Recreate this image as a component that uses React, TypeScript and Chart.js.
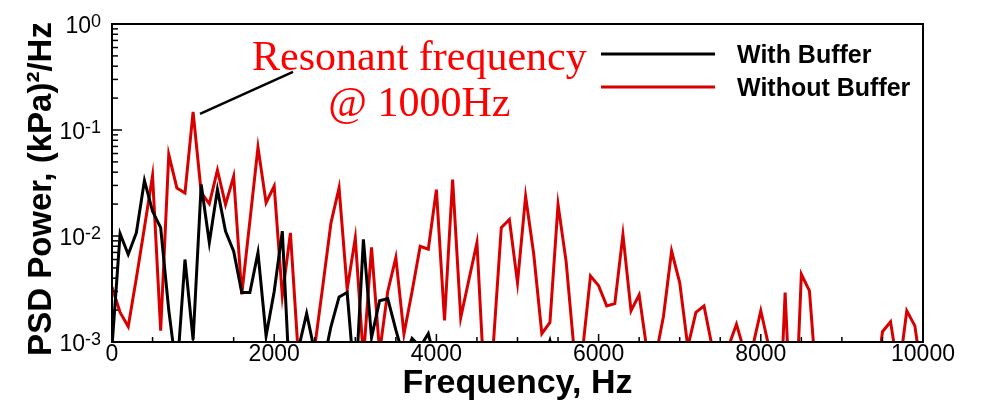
import { useEffect, useRef } from 'react';
import { Chart, registerables } from 'chart.js';

Chart.register(...registerables);

// Frequency bins (Hz)
const frequencies = [
  0, 100, 200, 300, 400, 500, 600, 700, 800, 900,
  1000, 1100, 1200, 1300, 1400, 1500, 1600, 1700, 1800, 1900,
  2000, 2100, 2200, 2300, 2400, 2500, 2600, 2700, 2800, 2900,
  3000, 3100, 3200, 3300, 3400, 3500, 3600, 3700, 3800, 3900,
  4000, 4100, 4200, 4300, 4400, 4500, 4600, 4700, 4800, 4900,
  5000, 5100, 5200, 5300, 5400, 5500, 5600, 5700, 5800, 5900,
  6000, 6100, 6200, 6300, 6400, 6500, 6600, 6700, 6800, 6900,
  7000, 7100, 7200, 7300, 7400, 7500, 7600, 7700, 7800, 7900,
  8000, 8100, 8200, 8300, 8400, 8500, 8600, 8700, 8800, 8900,
  9000, 9100, 9200, 9300, 9400, 9500, 9600, 9700, 9800, 9900,
  10000,
];

// PSD power, (kPa)^2/Hz — With Buffer
const withBuffer = [
  0.0009, 0.0105, 0.0067, 0.0107, 0.0334, 0.0171, 0.012, 0.002, 0.0005, 0.006,
  0.00105, 0.0306, 0.00865, 0.0274, 0.0111, 0.0072, 0.00293, 0.00293, 0.00697, 0.00114,
  0.003, 0.0111, 0.0003, 0.00087, 0.00186, 0.0008, 0.0006, 0.0014, 0.00266, 0.00293,
  0.00035, 0.0093, 0.0011, 0.00245, 0.00257, 0.0013, 0.0007, 0.00108, 0.0009, 0.0012,
  0.0006, 0.0004, 0.0003, 0.0004, 0.0005, 0.0003, 0.0004, 0.0005, 0.0003, 0.0004,
  0.0003, 0.0005, 0.0004, 0.0006, 0.00103, 0.0005, 0.0003, 0.0004, 0.0003, 0.0005,
  0.0004, 0.0003, 0.0004, 0.0005, 0.0003, 0.0004, 0.0003, 0.0005, 0.0004, 0.0003,
  0.0004, 0.0003, 0.0005, 0.0004, 0.0003, 0.0004, 0.0005, 0.0003, 0.0004, 0.0003,
  0.0005, 0.0004, 0.0003, 0.0004, 0.0003, 0.0005, 0.0004, 0.0003, 0.0004, 0.0003,
  0.0005, 0.0004, 0.0003, 0.0004, 0.0003, 0.0005, 0.0004, 0.0003, 0.0004, 0.0003,
  0.0004,
];

// PSD power, (kPa)^2/Hz — Without Buffer
const withoutBuffer = [
  0.0033, 0.0019, 0.0014, 0.004, 0.012, 0.037, 0.00128, 0.0586, 0.0284, 0.0255,
  0.148, 0.0256, 0.0201, 0.0417, 0.0198, 0.0366, 0.00282, 0.0138, 0.0687, 0.0206,
  0.0295, 0.00272, 0.0107, 0.0007, 0.0006, 0.0009, 0.0034, 0.0133, 0.0285, 0.00315,
  0.0096, 0.0007, 0.0078, 0.0008, 0.003, 0.00625, 0.00119, 0.003, 0.008, 0.0075,
  0.0274, 0.0016, 0.034, 0.0017, 0.00385, 0.00865, 0.0003, 0.0009, 0.012, 0.0143,
  0.00363, 0.0237, 0.00676, 0.0012, 0.00153, 0.0198, 0.0057, 0.0008, 0.0008, 0.0042,
  0.0034, 0.00219, 0.0023, 0.0103, 0.00197, 0.00278, 0.0008, 0.0007, 0.00175, 0.0072,
  0.00363, 0.0009, 0.0019, 0.00219, 0.0009, 0.0005, 0.0009, 0.00147, 0.0008, 0.0009,
  0.00197, 0.0009, 0.00005, 0.00293, 0.00006, 0.00435, 0.00303, 0.0003, 0.0004, 0.0003,
  0.0005, 0.0004, 0.0003, 0.0005, 0.0003, 0.00125, 0.00155, 0.0005, 0.00197, 0.00142,
  0.0004,
];

const seriesLabels = ['With Buffer', 'Without Buffer'];
const xTickValues = [0, 2000, 4000, 6000, 8000, 10000];
const yTickValues = [0.001, 0.01, 0.1, 1];
const xTitle = 'Frequency, Hz';
const yTitle = 'PSD Power, (kPa)\u00B2/Hz';
const annotationText = ['Resonant frequency', '@ 1000Hz'];
// annotation anchors in data units (Hz, PSD)
const annotationTextX = 3790;
const annotationBaselines = [0.37, 0.136];
const pointerFrom = { x: 1085, y: 0.142 };
const pointerTo = { x: 2232, y: 0.353 };

const SANS = "'Liberation Sans', Arial, Helvetica, sans-serif";
const SERIF = "'Liberation Serif', 'Times New Roman', serif";
const RED = '#d70000';

const decorPlugin = {
  id: 'decor',
  afterDatasetsDraw(chart: any) {
    const { ctx, chartArea: a, scales } = chart;
    const xs = scales.x;
    const ys = scales.y;
    ctx.save();

    const seg = (x1: number, y1: number, x2: number, y2: number) => {
      ctx.beginPath();
      ctx.moveTo(x1, y1);
      ctx.lineTo(x2, y2);
      ctx.stroke();
    };

    // inward tick marks
    ctx.strokeStyle = '#000';
    ctx.lineWidth = 1.5;
    for (let f = 0; f <= 10000; f += 500) {
      const px = xs.getPixelForValue(f);
      const len = f % 2000 === 0 ? 8 : 5;
      seg(px, a.bottom, px, a.bottom - len);
    }
    for (const d of [0.001, 0.01, 0.1]) {
      for (let m = 1; m <= 9; m++) {
        const py = ys.getPixelForValue(d * m);
        seg(a.left, py, a.left + (m === 1 ? 10 : 6), py);
      }
    }

    // frame
    ctx.lineWidth = 2;
    ctx.strokeRect(a.left, a.top, a.right - a.left, a.bottom - a.top);

    // y tick labels 10^n
    ctx.fillStyle = '#000';
    ctx.textBaseline = 'alphabetic';
    for (const t of ys.ticks) {
      const v = t.value;
      const py = ys.getPixelForValue(v);
      const exp = String(Math.round(Math.log10(v)));
      ctx.font = `18px ${SANS}`;
      ctx.textAlign = 'right';
      const xr = a.left - 11;
      ctx.fillText(exp, xr, py + 3);
      const ew = ctx.measureText(exp).width;
      ctx.font = `23px ${SANS}`;
      ctx.fillText('10', xr - ew, py + 8.5);
    }

    // y title
    ctx.save();
    ctx.translate(41.5, (a.top + a.bottom) / 2 + 6);
    ctx.rotate(-Math.PI / 2);
    ctx.font = `bold 33px ${SANS}`;
    ctx.textAlign = 'center';
    ctx.textBaseline = 'middle';
    ctx.fillText(yTitle, 0, 0);
    ctx.restore();

    // legend (inside plot, top right)
    const ds = chart.data.datasets;
    const rows = [54, 87];
    ds.forEach((d: any, i: number) => {
      const y = rows[i];
      ctx.strokeStyle = d.borderColor;
      ctx.lineWidth = 3;
      seg(601, y, 715, y);
      ctx.fillStyle = '#000';
      ctx.font = `bold 25px ${SANS}`;
      ctx.textAlign = 'left';
      ctx.textBaseline = 'alphabetic';
      ctx.fillText(d.label, 737, y + 8.5);
    });

    // annotation
    ctx.strokeStyle = '#000';
    ctx.lineWidth = 2.5;
    seg(
      xs.getPixelForValue(pointerFrom.x), ys.getPixelForValue(pointerFrom.y),
      xs.getPixelForValue(pointerTo.x), ys.getPixelForValue(pointerTo.y)
    );
    ctx.fillStyle = '#ff0000';
    ctx.font = `42px ${SERIF}`;
    ctx.textAlign = 'center';
    ctx.textBaseline = 'alphabetic';
    annotationText.forEach((s, i) => {
      ctx.fillText(s, xs.getPixelForValue(annotationTextX), ys.getPixelForValue(annotationBaselines[i]));
    });

    ctx.restore();
  },
};

export default function App() {
  const ref = useRef<HTMLCanvasElement | null>(null);

  useEffect(() => {
    if (!ref.current) return;
    const chart = new Chart(ref.current, {
      type: 'line',
      data: {
        datasets: [
          {
            label: seriesLabels[0],
            data: frequencies.map((f, i) => ({ x: f, y: withBuffer[i] })),
            borderColor: '#000000',
            backgroundColor: '#000000',
            borderWidth: 3,
            pointRadius: 0,
            tension: 0,
          },
          {
            label: seriesLabels[1],
            data: frequencies.map((f, i) => ({ x: f, y: withoutBuffer[i] })),
            borderColor: RED,
            backgroundColor: RED,
            borderWidth: 3,
            pointRadius: 0,
            tension: 0,
          },
        ],
      },
      options: {
        animation: false,
        responsive: false,
        devicePixelRatio: 1,
        layout: { padding: { left: 112, top: 24, right: 64, bottom: 0 } },
        plugins: { legend: { display: false }, tooltip: { enabled: false } },
        scales: {
          x: {
            type: 'linear',
            min: 0,
            max: 10000,
            afterBuildTicks: (s: any) => {
              s.ticks = xTickValues.map((v) => ({ value: v }));
            },
            grid: { display: false, drawTicks: false },
            border: { display: false },
            ticks: {
              color: '#000',
              padding: 1,
              maxRotation: 0,
              font: { family: SANS, size: 23, lineHeight: 1 },
              callback: (v: any) => String(v),
            },
            title: {
              display: true,
              text: xTitle,
              color: '#000',
              font: { family: SANS, size: 34, weight: 'bold', lineHeight: 1 },
              padding: { top: 0, bottom: 5 },
            },
          },
          y: {
            type: 'logarithmic',
            min: 0.001,
            max: 1,
            afterBuildTicks: (s: any) => {
              s.ticks = yTickValues.map((v) => ({ value: v }));
            },
            grid: { display: false, drawTicks: false },
            border: { display: false },
            ticks: { display: false },
            title: { display: false },
          },
        },
      },
      plugins: [decorPlugin],
    } as any);
    return () => chart.destroy();
  }, []);

  return (
    <div style={{ position: 'absolute', left: 0, top: 0, width: 987, height: 406, background: '#fff' }}>
      <canvas ref={ref} width={987} height={406} />
    </div>
  );
}
